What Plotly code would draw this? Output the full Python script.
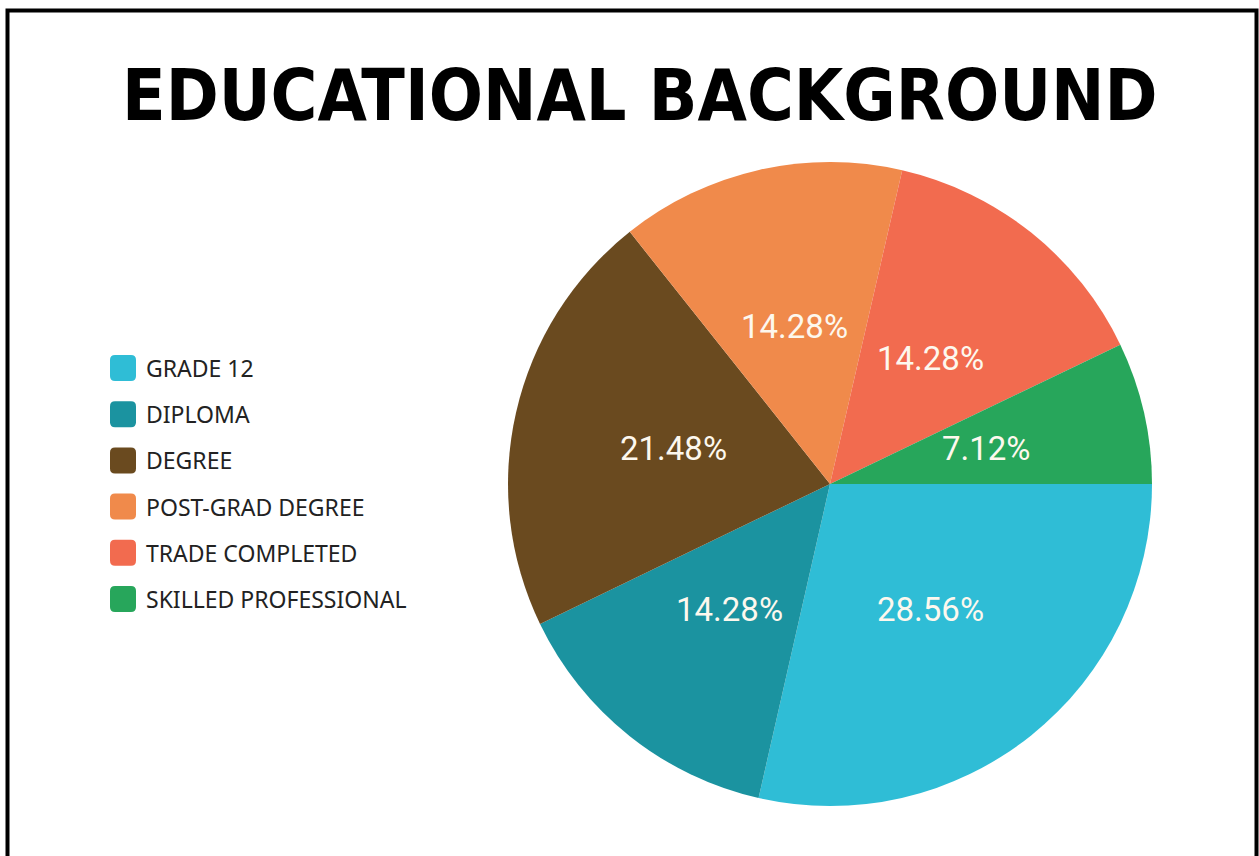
import math
import plotly.graph_objects as go

W, H = 1259, 856

categories = ["GRADE 12", "DIPLOMA", "DEGREE", "POST-GRAD DEGREE",
              "TRADE COMPLETED", "SKILLED PROFESSIONAL"]
shares = [28.56, 14.28, 21.48, 14.28, 14.28, 7.12]
colors = ["#2FBDD6", "#1B93A0", "#6A4A1F", "#F08A4B", "#F26B4F", "#27A65B"]

# pie geometry in pixels
cx, cy, R = 830, 484, 322


def px(x):
    return x / W


def py(y):
    return 1 - y / H


fig = go.Figure()
fig.add_trace(go.Pie(
    labels=categories,
    values=shares,
    sort=False,
    direction="clockwise",
    rotation=90,
    marker=dict(colors=colors, line=dict(width=0)),
    textinfo="none",
    hoverinfo="label+value",
    showlegend=False,
    domain=dict(x=[px(cx - R), px(cx + R)], y=[py(cy + R), py(cy - R)]),
))

annotations = []
shapes = []

# percentage labels at half radius along each slice's mid angle
total = sum(shares)
cum = 0.0
for v in shares:
    mid = math.radians((cum + v / 2) / total * 360)
    cum += v
    lx = cx + 0.5 * R * math.cos(mid)
    ly = cy + 0.5 * R * math.sin(mid)
    annotations.append(dict(
        x=px(lx), y=py(ly), xref="paper", yref="paper",
        text=f"{v:.2f}%", showarrow=False,
        xanchor="center", yanchor="middle",
        font=dict(family="Roboto", size=33, color="#FDF8EE"),
    ))

# legend: rounded swatches with labels
leg_x, leg_y0, leg_dy, sw = 110, 368, 46.2, 26
for i, (name, col) in enumerate(zip(categories, colors)):
    yc = leg_y0 + i * leg_dy
    x0, x1 = leg_x, leg_x + sw
    y0, y1 = yc - sw / 2, yc + sw / 2
    r = 5
    path = (f"M {px(x0 + r)} {py(y0)} L {px(x1 - r)} {py(y0)} "
            f"Q {px(x1)} {py(y0)} {px(x1)} {py(y0 + r)} L {px(x1)} {py(y1 - r)} "
            f"Q {px(x1)} {py(y1)} {px(x1 - r)} {py(y1)} L {px(x0 + r)} {py(y1)} "
            f"Q {px(x0)} {py(y1)} {px(x0)} {py(y1 - r)} L {px(x0)} {py(y0 + r)} "
            f"Q {px(x0)} {py(y0)} {px(x0 + r)} {py(y0)} Z")
    shapes.append(dict(type="path", path=path, xref="paper", yref="paper",
                       fillcolor=col, line=dict(width=0)))
    annotations.append(dict(
        x=px(144), y=py(yc), xref="paper", yref="paper",
        text=name, showarrow=False, xanchor="left", yanchor="middle",
        font=dict(family="Noto Sans", size=23, color="#222222"),
    ))

# title
annotations.append(dict(
    x=px(640), y=py(95), xref="paper", yref="paper",
    text="<b>EDUCATIONAL BACKGROUND</b>", showarrow=False,
    xanchor="center", yanchor="middle",
    font=dict(family="DejaVu Sans Condensed", size=71, color="#000000"),
))

# frame (open at the bottom)
shapes.append(dict(
    type="path", xref="paper", yref="paper",
    path=f"M {px(7.5)} {py(H + 5)} L {px(7.5)} {py(10.5)} L {px(1256.5)} {py(10.5)} L {px(1256.5)} {py(H + 5)}",
    line=dict(color="#000000", width=4),
))

fig.update_layout(
    width=W, height=H,
    margin=dict(l=0, r=0, t=0, b=0),
    paper_bgcolor="#FFFFFF",
    plot_bgcolor="#FFFFFF",
    annotations=annotations,
    shapes=shapes,
)

fig.write_html("out.html", config={"displayModeBar": False})
